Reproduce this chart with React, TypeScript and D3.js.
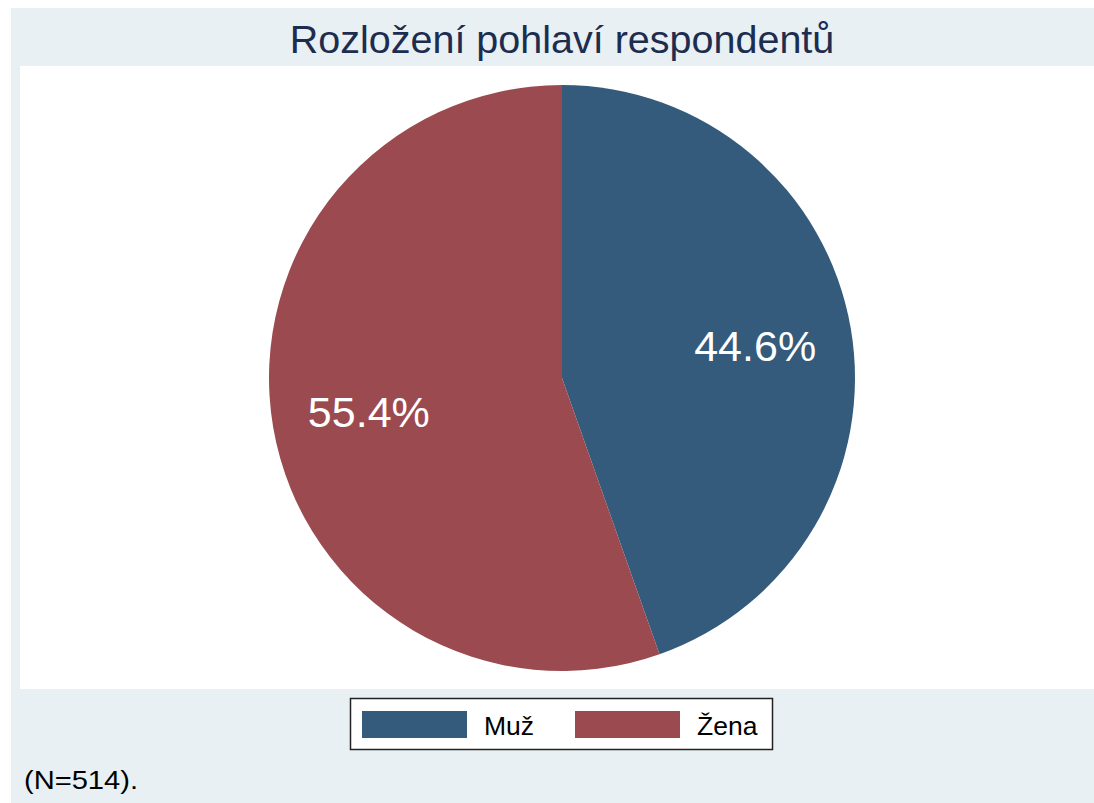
import React from "react";
import * as d3 from "d3";

const categories = ["Muž", "Žena"];
const values = [44.6, 55.4];
const colors = ["#345a7c", "#9b4a50"];
const title = "Rozložení pohlaví respondentů";
const note = "(N=514).";

export default function App() {
  const W = 1094, H = 803;
  const cx = 562, cy = 378, R = 293;
  const pie = d3.pie<number>().sort(null).value((d) => d);
  const arcs = pie(values);
  const arc = d3.arc<d3.PieArcDatum<number>>().innerRadius(0).outerRadius(R);
  const labelArc = d3.arc<d3.PieArcDatum<number>>().innerRadius(196).outerRadius(196);
  const font = "'Liberation Sans', Arial, sans-serif";
  const legendX = [362, 575];
  return (
    <svg width={W} height={H} style={{ display: "block", position: "absolute", left: 0, top: 0 }}>
      <rect x={11} y={8} width={W - 11} height={H - 8} fill="#e8f0f3" />
      <rect x={20} y={66} width={W - 20} height={689 - 66} fill="#ffffff" />
      <text x={562} y={53} textAnchor="middle" fontFamily={font} fontSize={39.5} fill="#1c2d4f">
        {title}
      </text>
      <g transform={`translate(${cx},${cy})`}>
        {arcs.map((a, i) => (
          <path key={i} d={arc(a) || ""} fill={colors[i]} />
        ))}
        {arcs.map((a, i) => {
          const [x, y] = labelArc.centroid(a);
          return (
            <text key={"l" + i} x={x} y={y} dy="0.38em" textAnchor="middle" fontFamily={font} fontSize={43} fill="#ffffff">
              {values[i].toFixed(1) + "%"}
            </text>
          );
        })}
      </g>
      <rect x={350.5} y={698.5} width={422} height={51} fill="#ffffff" stroke="#222" strokeWidth={1.5} />
      {categories.map((c, i) => (
        <g key={c}>
          <rect x={legendX[i]} y={711} width={105} height={27} fill={colors[i]} />
          <text x={legendX[i] + 122} y={735} fontFamily={font} fontSize={26.5} fill="#000">
            {c}
          </text>
        </g>
      ))}
      <text x={24} y={789} fontFamily={font} fontSize={25} fill="#000" textLength={114} lengthAdjust="spacingAndGlyphs">
        {note}
      </text>
    </svg>
  );
}
